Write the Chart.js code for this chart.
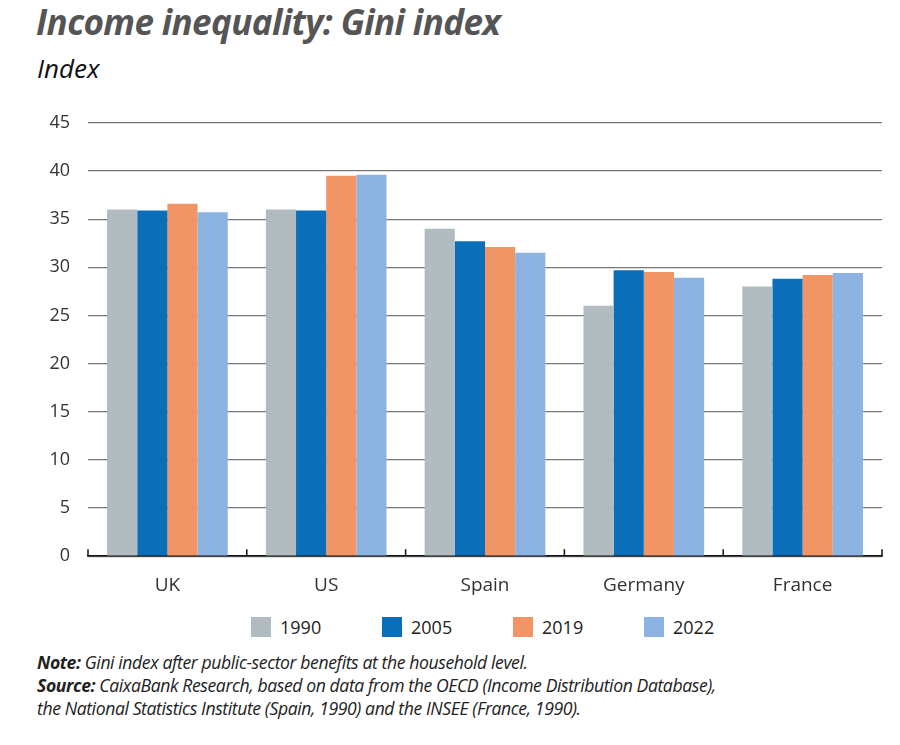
<!DOCTYPE html>
<html>
<head>
<meta charset="utf-8">
<script src="https://cdn.jsdelivr.net/npm/chart.js@4.4.1/dist/chart.umd.min.js"></script>
<style>
  html, body { margin: 0; padding: 0; background: #fff; }
  body { width: 900px; height: 745px; position: relative; overflow: hidden;
         font-family: "Open Sans", "Noto Sans", sans-serif; }
  .title { position: absolute; left: 36px; top: -2px; font-size: 35px; font-weight: 700;
           font-style: italic; color: #555; letter-spacing: -0.6px; }
  .sub { position: absolute; left: 37px; top: 50px; font-size: 26px; font-style: italic; color: #111; }
  .wrap { position: absolute; left: 0; top: 94px; width: 900px; height: 513px; }
  .legend { position: absolute; left: 251px; top: 615px; display: flex; }
  .legend .item { width: 131px; display: flex; align-items: center; font-size: 18px; color: #222; }
  .legend .box { width: 20px; height: 20px; margin-right: 9px; }
  .notes { position: absolute; left: 37px; top: 651px; font-size: 17.6px; font-style: italic;
           color: #222; line-height: 23px; letter-spacing: -0.4px; }
  .notes b { font-weight: 700; }
</style>
</head>
<body>
<div class="title">Income inequality: Gini index</div>
<div class="sub">Index</div>
<div class="wrap"><canvas id="c"></canvas></div>
<div class="legend" id="legend"></div>
<div class="notes">
  <div><b>Note:</b> Gini index after public-sector benefits at the household level.</div>
  <div><b>Source:</b> CaixaBank Research, based on data from the OECD (Income Distribution Database),</div>
  <div>the National Statistics Institute (Spain, 1990) and the INSEE (France, 1990).</div>
</div>
<script>
// categorías y series
const countries = ['UK', 'US', 'Spain', 'Germany', 'France'];
const years = ['1990', '2005', '2019', '2022'];
const v1990 = [36.0, 36.0, 34.0, 26.0, 28.0];
const v2005 = [35.9, 35.9, 32.7, 29.7, 28.8];
const v2019 = [36.6, 39.5, 32.1, 29.5, 29.2];
const v2022 = [35.7, 39.6, 31.5, 28.9, 29.4];
const colors = ['#b1bcc1', '#0a6fb8', '#f19466', '#8db3e2'];

// legend as html, built from the same arrays
document.getElementById('legend').innerHTML = years.map((y, i) =>
  `<div class="item"><span class="box" style="background:${colors[i]}"></span>${y}</div>`).join('');

// small upward ticks at category boundaries on the x axis
const boundaryTicks = {
  id: 'boundaryTicks',
  afterDraw(chart) {
    const x = chart.scales.x, ctx = chart.ctx;
    const y0 = chart.chartArea.bottom;
    const step = x.getPixelForValue(1) - x.getPixelForValue(0);
    ctx.save();
    ctx.strokeStyle = '#111';
    ctx.lineWidth = 1.5;
    for (let i = 0; i <= countries.length; i++) {
      const px = x.getPixelForValue(0) - step / 2 + i * step;
      ctx.beginPath();
      ctx.moveTo(px, y0);
      ctx.lineTo(px, y0 - 7);
      ctx.stroke();
    }
    ctx.restore();
  }
};

new Chart(document.getElementById('c'), {
  type: 'bar',
  data: {
    labels: countries,
    datasets: [v1990, v2005, v2019, v2022].map((d, i) => ({
      label: years[i],
      data: d,
      backgroundColor: colors[i],
      borderWidth: 0,
      categoryPercentage: 0.76,
      barPercentage: 1.0
    }))
  },
  options: {
    responsive: true,
    maintainAspectRatio: false,
    animation: false,
    layout: { padding: { top: 2, right: 18, left: 0, bottom: 0 } },
    plugins: {
      tooltip: { enabled: false },
      legend: { display: false }
    },
    scales: {
      x: {
        grid: { display: false },
        border: { display: true, color: '#111', width: 1.5 },
        ticks: { color: '#333', padding: 10, font: { size: 19, family: '"Open Sans", sans-serif' } }
      },
      y: {
        min: 0, max: 45,
        afterFit: (s) => { s.width = 88; },
        ticks: { stepSize: 5, color: '#333', padding: 18, font: { size: 18, family: '"Open Sans", sans-serif' } },
        grid: { color: '#777', lineWidth: 1.2, drawTicks: false },
        border: { display: false }
      }
    }
  },
  plugins: [boundaryTicks]
});
</script>
</body>
</html>
